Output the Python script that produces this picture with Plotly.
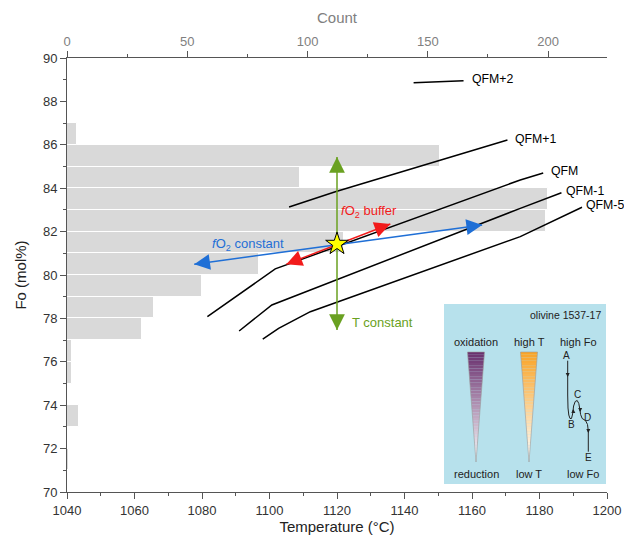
import plotly.graph_objects as go
import numpy as np

# ---------------- data ----------------
fo_bin_lower = [71, 72, 73, 74, 75, 76, 77, 78, 79, 80, 81, 82, 83, 84, 85, 86]
fo_counts    = [1, 0, 5, 0, 2, 2, 31, 36, 56, 80, 115, 199, 200, 97, 155, 4]

qfm_p2_T  = [1142.7, 1157.5]
qfm_p2_Fo = [88.86, 88.95]
qfm_p1_T  = [1105.8, 1119.5, 1170.5]
qfm_p1_Fo = [83.13, 83.84, 86.22]
qfm_T     = [1081.6, 1101.7, 1174.3, 1181.1]
qfm_Fo    = [78.08, 80.28, 84.38, 84.70]
qfm_m1_T  = [1091.0, 1100.7, 1174.3, 1186.5]
qfm_m1_Fo = [77.42, 78.62, 83.07, 83.79]
qfm_m5_T  = [1098.0, 1102.7, 1112.1, 1174.3, 1192.6]
qfm_m5_Fo = [77.04, 77.54, 78.31, 81.77, 83.12]

buffer_labels = ["QFM+2", "QFM+1", "QFM", "QFM-1", "QFM-5"]
label_T  = [1159.5, 1172.0, 1182.9, 1187.2, 1193.3]
label_Fo = [89.03, 86.27, 84.81, 83.87, 83.22]

star_T, star_Fo = 1120.0, 81.43
green_tips = [(1120.0, 85.44), (1120.0, 77.47)]
red_tips   = [(1105.0, 80.5), (1135.8, 82.35)]
blue_tips  = [(1077.7, 80.5), (1163.0, 82.3)]

# ---------------- layout geometry ----------------
# page has an 8px body margin; the figure is sized so the page does not overflow
OFF = 8
W, H = 632 - OFF, 543 - 2 * OFF
L, T = 67 - OFF, 58 - OFF
PW, PH = 540, 434
R, B = W - L - PW, H - T - PH
XR = [1040, 1200]
YR = [70, 90]
FONT = "Arial, Liberation Sans, sans-serif"

def pxx(x):  # window pixel x -> paper
    return (x - 67) / PW

def pxy(y):  # window pixel y -> paper
    return (492 - y) / PH

fig = go.Figure()

# histogram (count axis = x, drawn underneath)
fig.add_trace(go.Bar(
    x=fo_counts, y=[b + 0.5 for b in fo_bin_lower], orientation="h",
    width=1, xaxis="x", yaxis="y",
    marker=dict(color="#d9d9d9", line=dict(color="white", width=1)),
    showlegend=False, hoverinfo="skip"))

for tx, fy in [(qfm_p2_T, qfm_p2_Fo), (qfm_p1_T, qfm_p1_Fo), (qfm_T, qfm_Fo),
               (qfm_m1_T, qfm_m1_Fo), (qfm_m5_T, qfm_m5_Fo)]:
    fig.add_trace(go.Scatter(x=tx, y=fy, mode="lines", xaxis="x2", yaxis="y",
                             line=dict(color="black", width=1.5),
                             showlegend=False, hoverinfo="skip"))

annotations = []
for lab, tx, fy in zip(buffer_labels, label_T, label_Fo):
    annotations.append(dict(x=tx, y=fy, xref="x2", yref="y", text=lab,
                            showarrow=False, xanchor="left", yanchor="middle",
                            font=dict(family=FONT, size=12.3, color="black")))

# double arrows
sx = PW / (XR[1] - XR[0])
sy = PH / (YR[1] - YR[0])
for tips, col in [(blue_tips, "#1f6fd6"), (red_tips, "#f21b1b"), (green_tips, "#6aa121")]:
    fig.add_trace(go.Scatter(x=[tips[0][0], tips[1][0]], y=[tips[0][1], tips[1][1]],
                             mode="lines", xaxis="x2", yaxis="y",
                             line=dict(color=col, width=1.5),
                             showlegend=False, hoverinfo="skip"))
    for (tx, fy) in tips:
        dx = (tx - star_T) * sx
        dy = -(fy - star_Fo) * sy
        n = np.hypot(dx, dy)
        annotations.append(dict(x=tx, y=fy, xref="x2", yref="y",
                                ax=-dx / n * 16, ay=-dy / n * 16,
                                showarrow=True, arrowhead=2, arrowsize=2.1,
                                arrowwidth=1.5, arrowcolor=col, text=""))

fig.add_trace(go.Scatter(x=[star_T], y=[star_Fo], mode="markers", xaxis="x2", yaxis="y",
                         marker=dict(symbol="star", size=17, color="#ffff00",
                                     line=dict(color="black", width=1)),
                         showlegend=False, hoverinfo="skip"))

annotations += [
    dict(x=1123.9, y=77.79, xref="x2", yref="y", text="T constant", showarrow=False,
         xanchor="left", font=dict(family=FONT, size=13, color="#6aa121")),
    dict(x=1120.7, y=82.92, xref="x2", yref="y", text="<i>f</i>O<sub>2</sub> buffer",
         showarrow=False, xanchor="left", font=dict(family=FONT, size=13, color="#f21b1b")),
    dict(x=1082.4, y=81.41, xref="x2", yref="y", text="<i>f</i>O<sub>2</sub> constant",
         showarrow=False, xanchor="left", font=dict(family=FONT, size=13, color="#1f6fd6")),
]

# ---------------- inset ----------------
shapes = [dict(type="rect", xref="paper", yref="paper", x0=pxx(444), x1=pxx(606),
               y0=pxy(484), y1=pxy(304), fillcolor="#b7e1ec", line=dict(width=0),
               layer="above")]

def grad_triangle(cx, top, tip, halfw, c0):
    n = 40
    for i in range(n):
        y0 = top + (tip - top) * i / n
        y1 = top + (tip - top) * (i + 1) / n
        w0 = halfw * (1 - i / n)
        w1 = halfw * (1 - (i + 1) / n)
        f = (i + 0.5) / n
        c = tuple(int(round(c0[k] + (255 - c0[k]) * f)) for k in range(3))
        path = "M {},{} L {},{} L {},{} L {},{} Z".format(
            pxx(cx - w0), pxy(y0), pxx(cx + w0), pxy(y0),
            pxx(cx + w1), pxy(y1), pxx(cx - w1), pxy(y1))
        shapes.append(dict(type="path", xref="paper", yref="paper", path=path,
                           fillcolor="rgb({},{},{})".format(*c),
                           line=dict(width=0), layer="above"))
    path = "M {},{} L {},{} L {},{} Z".format(pxx(cx - halfw), pxy(top),
                                              pxx(cx + halfw), pxy(top),
                                              pxx(cx), pxy(tip))
    shapes.append(dict(type="path", xref="paper", yref="paper", path=path,
                       line=dict(color="#9a9a9a", width=0.6), layer="above"))

grad_triangle(476, 352, 462, 8.5, (104, 46, 108))
grad_triangle(529, 352, 462, 8.5, (249, 163, 38))

path_px = [(567.7, 360.7), (567.7, 395), (568, 408), (568.8, 415), (570, 418.5),
           (571.5, 418.5), (572.6, 414), (573.6, 406), (575.2, 401.5), (577.2, 400.5),
           (578.8, 403.5), (579.8, 409), (580.6, 414.5), (582.2, 418.5), (585.5, 420.5),
           (587.5, 424.5), (588.3, 431), (588.3, 451.7)]
pth = "M " + " L ".join("{},{}".format(pxx(a), pxy(b)) for a, b in path_px)
shapes.append(dict(type="path", xref="paper", yref="paper", path=pth,
                   line=dict(color="#222", width=1), layer="above"))

for (tx, ty, ax, ay) in [(567.7, 377, 0, -5), (573.3, 409, 0, 5),
                         (580.2, 412, 0, -5), (588.3, 433, 0, -5)]:
    annotations.append(dict(x=pxx(tx), y=pxy(ty), xref="paper", yref="paper",
                            ax=ax, ay=ay, showarrow=True, arrowhead=2, arrowsize=0.8,
                            arrowwidth=1, arrowcolor="#222", text=""))

inset_text = [("olivine 1537-17", 565, 315, 10.5), ("oxidation", 476, 342, 11),
              ("high T", 529, 342, 11), ("high Fo", 578, 342, 11),
              ("reduction", 476, 474, 11), ("low T", 529, 474, 11), ("low Fo", 583, 474, 11),
              ("A", 566.7, 355.5, 10), ("B", 571.3, 424, 10), ("C", 577, 394, 10),
              ("D", 587.5, 417.5, 10), ("E", 588.3, 457.5, 10)]
for txt, x, y, s in inset_text:
    annotations.append(dict(x=pxx(x), y=pxy(y), xref="paper", yref="paper", text=txt,
                            showarrow=False, xanchor="center", yanchor="middle",
                            font=dict(family=FONT, size=s, color="#222")))

fig.update_layout(
    width=W, height=H, margin=dict(l=L, r=R, t=T, b=B, autoexpand=False),
    paper_bgcolor="white", plot_bgcolor="white", bargap=0,
    xaxis=dict(range=[0, 224.5], side="top", anchor="y", dtick=50, automargin=False,
               showgrid=False, zeroline=False, showline=True, linecolor="#555",
               ticks="outside", tickcolor="#555", ticklen=6,
               minor=dict(dtick=25, ticks="outside", ticklen=3, tickcolor="#555"),
               tickfont=dict(family=FONT, size=13, color="#808080"),
               title=dict(text="Count", font=dict(family=FONT, size=15, color="#808080"),
                          standoff=6)),
    xaxis2=dict(range=XR, dtick=20, tick0=1040, overlaying="x", side="bottom", anchor="y",
                automargin=False, showgrid=False, zeroline=False, showline=True,
                linecolor="#555", linewidth=1, ticks="outside", tickcolor="#555", ticklen=6,
                tickfont=dict(family=FONT, size=13, color="#333"),
                minor=dict(dtick=10, ticks="outside", ticklen=3, tickcolor="#555"),
                title=dict(text="Temperature (°C)",
                           font=dict(family=FONT, size=15, color="#222"), standoff=6)),
    yaxis=dict(range=YR, dtick=2, automargin=False,
               showgrid=False, zeroline=False, showline=True, linecolor="#555",
               linewidth=1, ticks="outside", tickcolor="#555", ticklen=6,
               tickfont=dict(family=FONT, size=13, color="#333"),
               minor=dict(dtick=1, ticks="outside", ticklen=3, tickcolor="#555"),
               title=dict(text="Fo (mol%)", font=dict(family=FONT, size=15, color="#222"),
                          standoff=12)),
    shapes=shapes, annotations=annotations,
)

fig.write_html("out.html")
